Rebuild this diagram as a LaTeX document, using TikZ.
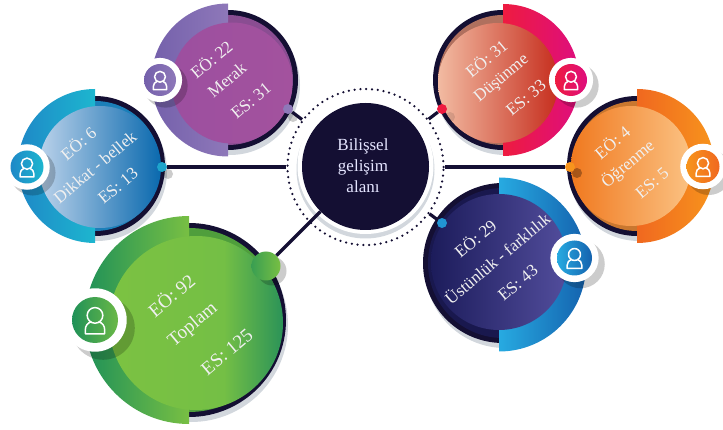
\documentclass[tikz,border=0pt]{standalone}
\usepackage{fontspec}
\setmainfont{Liberation Serif}
\definecolor{ink}{HTML}{140F33}
\definecolor{ringshadow}{HTML}{D2D7DD}
\definecolor{pwl}{HTML}{7460AB}\definecolor{pwr}{HTML}{8E78B9}\definecolor{pb}{HTML}{8A4D92}\definecolor{pil}{HTML}{9C4F9F}\definecolor{pim}{HTML}{A1509F}\definecolor{pir}{HTML}{A3529E}
\definecolor{bwl}{HTML}{1E88C7}\definecolor{bwr}{HTML}{1DB6CF}\definecolor{bb}{HTML}{1B7FB9}\definecolor{bil}{HTML}{BBD2EA}\definecolor{bim}{HTML}{4A9AD3}\definecolor{bir}{HTML}{0A69AE}
\definecolor{rwl}{HTML}{EE1B40}\definecolor{rwr}{HTML}{DE0E7E}\definecolor{rb}{HTML}{B0705E}\definecolor{ril}{HTML}{F2BBA2}\definecolor{rim}{HTML}{E0694B}\definecolor{rir}{HTML}{C62E1E}
\definecolor{owl}{HTML}{F0681F}\definecolor{owr}{HTML}{F7941D}\definecolor{ob}{HTML}{C9772F}\definecolor{oil}{HTML}{F0791F}\definecolor{oim}{HTML}{F58C3C}\definecolor{oir}{HTML}{FBC283}
\definecolor{nwl}{HTML}{27AAE1}\definecolor{nwr}{HTML}{1462AE}\definecolor{nb}{HTML}{19184E}\definecolor{nil}{HTML}{1C1C5B}\definecolor{nim}{HTML}{312F79}\definecolor{nir}{HTML}{524D9C}
\definecolor{gwl}{HTML}{1F9158}\definecolor{gwr}{HTML}{78BF43}\definecolor{gb}{HTML}{4F9E3C}\definecolor{gil}{HTML}{7CC242}\definecolor{gim}{HTML}{74BF45}\definecolor{gir}{HTML}{2B9358}
\pgfdeclarehorizontalshading{gflat}{100bp}{color(0bp)=(gil); color(25bp)=(gil); color(58bp)=(gim); color(75bp)=(gir); color(100bp)=(gir)}
\tikzset{
  link/.style={draw=ink,line width=3.2pt},
  petaltext/.style={text=white!94!black,font=\fontsize{17}{17}\selectfont,rotate=40,inner sep=0pt},
  hubtext/.style={text=white!90!blue,font=\fontsize{17}{21}\selectfont,align=center},
  hub/.style={circle,fill=ink,minimum size=127pt,inner sep=0pt},
  dotring/.style={circle,draw=ink,line width=2.5pt,dash pattern=on 0pt off 5.8pt,line cap=round,minimum size=156pt,inner sep=0pt},
  knob/.style={circle,minimum size=10pt,inner sep=0pt,fill=#1},
  innerx/.style={},
}
\newcommand{\rdx}{0}\newcommand{\rdy}{0}
% #1 colour prefix, #2 wedge side (1 left, -1 right), #3 #4 centre, #5 wedge radius, #6 ring radius, #7 #8 #9 inner disc
\newcommand{\drawpetal}[9]{%
  \begin{scope}
    \clip ({#3},{#4-150}) rectangle ({#3+#2*200},{#4+150});
    \fill[ringshadow] ({#3+\rdx+2},{#4+\rdy+5}) circle[radius=#6];
    \fill[ink] ({#3+\rdx},{#4+\rdy}) circle[radius=#6];
    \fill[#1b] ({#3+\rdx},{#4+\rdy}) circle[radius=#6-5];
  \end{scope}
  \begin{scope}
    \clip (#3,#4) circle[radius=#5];
    \shade[left color=#1wl,right color=#1wr] ({#3-#2*#5},{#4-#5}) rectangle ({#3},{#4+#5});
  \end{scope}
  \shade[left color=#1il,middle color=#1im,right color=#1ir,innerx] (#7,#8) circle[radius=#9];
}
% #1 x, #2 y, #3 radius, #4 #5 colours
\newcommand{\drawbadge}[5]{%
  \fill[black,opacity=.2] ({#1+#3*.35},{#2+#3*.35}) circle[radius=#3*1.38];
  \fill[white] (#1,#2) circle[radius=#3*1.38];
  \shade[left color=#4,right color=#5] (#1,#2) circle[radius=#3];
  \begin{scope}[shift={(#1,#2)},scale=#3]
    \draw[white,line width=1.5pt,line join=round] (0,-.2) circle[radius=.34];
    \draw[white,line width=1.5pt,line join=round] (-.16,.07) .. controls (-.32,.13) and (-.42,.25) .. (-.42,.42) -- (-.42,.6) -- (.42,.6) -- (.42,.42) .. controls (.42,.25) and (.32,.13) .. (.16,.07);
  \end{scope}
}
\begin{document}
\begin{tikzpicture}[x=1pt,y=-1pt]
\useasboundingbox (0,0) rectangle (723,430);
% petals
\drawpetal{p}{1}{228}{80}{76.5}{70}{232}{83}{60.5}
\drawpetal{b}{1}{95}{166}{77}{70}{100}{167}{61}
\drawpetal{r}{-1}{503}{80}{76}{70}{498}{83}{60}
\drawpetal{o}{-1}{637}{166}{77}{70}{631}{166}{60}
\renewcommand{\rdx}{4}\renewcommand{\rdy}{-1.5}
\drawpetal{n}{-1}{499}{264.5}{87}{80}{499}{262}{68}
\renewcommand{\rdx}{0}\renewcommand{\rdy}{0}
\tikzset{innerx/.style={shading=gflat,shading angle=0}}
\drawpetal{g}{1}{189}{320}{104}{97}{196}{323}{87}
% hub
\fill[ringshadow] (365.5,169.5) circle[radius=69];
\fill[white] (365.5,166) circle[radius=68];
\node[dotring] (dots) at (365.5,167) {};
\node[hub] (hubdisc) at (365.5,166.5) {};
\node[hubtext] (hublabel) at (363,166) {Bilişsel\\gelişim\\alanı};
% knob shadows
\fill[black,opacity=.2] (293,117) circle[radius=5];
\fill[black,opacity=.2] (168,174) circle[radius=5];
\fill[black,opacity=.1] (450,117) circle[radius=5];
\fill[black,opacity=.3] (577,173) circle[radius=5];
\fill[black,opacity=.2] (272,271) circle[radius=14.5];
% knobs
\node[knob=pwr] (kp) at (288,109) {};
\node[knob=bwr!60!bwl] (kb) at (162,167) {};
\node[knob=rwl] (kr) at (442,109) {};
\node[knob=owr] (ko) at (570,167) {};
\node[knob=nwl!70!nwr] (kn) at (442,223) {};
\node[circle,minimum size=29pt,inner sep=0pt,left color=gwl!70!gwr,right color=gwr] (kg) at (266,266) {};
% connectors
\draw[link] (kp) -- (dots);
\draw[link] (kb) -- (dots);
\draw[link] (kr) -- (dots);
\draw[link] (ko) -- (dots);
\draw[link] (kn) -- (dots);
\draw[link] (kg) -- (hubdisc);
% badges
\drawbadge{160}{80}{16}{pwl}{pwr}
\drawbadge{27}{167}{16.5}{bwl}{bwr}
\drawbadge{571}{80}{16}{rwl}{rwr}
\drawbadge{703}{166.5}{16.5}{owr}{owl}
\drawbadge{574.5}{258}{17.5}{nwl}{nwr}
\drawbadge{95}{320}{23}{gwl}{gwr!85!gwl}
% labels
\node[petaltext] (p1) at (211,59) {EÖ: 22};
\node[petaltext] (p2) at (227,80) {Merak};
\node[petaltext] (p3) at (251,101) {ES: 31};
\node[petaltext] (b1) at (78,143) {EÖ: 6};
\node[petaltext] (b2) at (95,167) {Dikkat - bellek};
\node[petaltext] (b3) at (118,186) {ES: 13};
\node[petaltext] (r1) at (486,58) {EÖ: 31};
\node[petaltext] (r2) at (502,79) {Düşünme};
\node[petaltext] (r3) at (526,98) {ES: 33};
\node[petaltext] (o1) at (612,142) {EÖ: 4};
\node[petaltext] (o2) at (628,164) {Öğrenme};
\node[petaltext] (o3) at (652,183) {ES: 5};
\node[petaltext] (n1) at (475,238) {EÖ: 29};
\node[petaltext] (n2) at (497,258) {Üstünlük - farklılık};
\node[petaltext] (n3) at (518,283) {ES: 43};
\node[petaltext,font=\fontsize{19}{19}\selectfont] (g1) at (171,295) {EÖ: 92};
\node[petaltext,font=\fontsize{19}{19}\selectfont] (g2) at (193,325) {Toplam};
\node[petaltext,font=\fontsize{19}{19}\selectfont] (g3) at (227,352) {ES: 125};
\end{tikzpicture}
\end{document}
